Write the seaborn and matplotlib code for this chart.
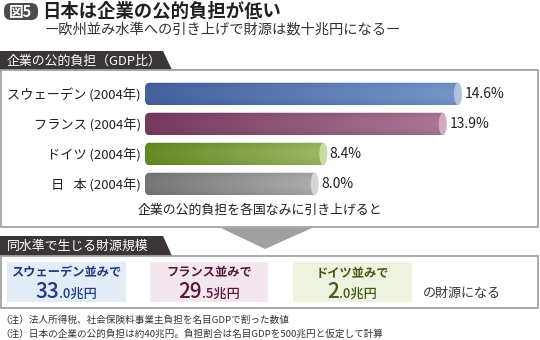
import numpy as np
import pandas as pd
import matplotlib
matplotlib.use("Agg")
import matplotlib.pyplot as plt
import seaborn as sns
from matplotlib.patches import FancyBboxPatch, Ellipse, Polygon, Rectangle
from matplotlib.colors import LinearSegmentedColormap

# ---------------- data ----------------
countries = ["スウェーデン\u2009(2004年)", "フランス\u2009(2004年)", "ドイツ\u2009(2004年)",
             "日\u2002\u2009本\u2009(2004年)"]
burden = [14.6, 13.9, 8.4, 8.0]
value_labels = ["14.6%", "13.9%", "8.4%", "8.0%"]
bar_left = ["#46619E", "#763A60", "#658A24", "#767676"]
bar_right = ["#7596C9", "#AB7797", "#9DB962", "#ADADAD"]
bar_cap = ["#AFC3E1", "#D4A9C4", "#CADBA2", "#D5D5D5"]

rev_titles = ["スウェーデン並みで", "フランス並みで", "ドイツ並みで"]
rev_big = ["33", "29", "2"]
rev_small = [".0兆円", ".5兆円", ".0兆円"]
rev_bg = ["#E3ECF6", "#F3E6EF", "#EEF3E0"]
rev_fg = ["#1D3A82", "#5A1838", "#3E5A12"]

title = "日本は企業の公的負担が低い"
subtitle = "ー欧州並み水準への引き上げで財源は数十兆円になるー"
tab1 = "企業の公的負担（GDP比）"
tab2 = "同水準で生じる財源規模"
caption = "企業の公的負担を各国なみに引き上げると"
tail = "の財源になる"
notes = ["（注）法人所得税、社会保険料事業主負担を名目GDPで割った数値",
         "（注）日本の企業の公的負担は約40兆円。負担割合は名目GDPを500兆円と仮定して計算"]

# ---------------- style ----------------
sns.set_theme(style="white")
plt.rcParams["font.family"] = ["Noto Sans CJK JP", "DejaVu Sans"]

W, H = 540, 340
fig = plt.figure(figsize=(W / 100, H / 100), dpi=100)

# background / decoration axes in pixel coordinates
bg = fig.add_axes([0, 0, 1, 1])
bg.set_xlim(0, W)
bg.set_ylim(H, 0)
bg.axis("off")

dark = "#3B3536"
border = "#A3A3A3"

# badge
bg.add_patch(FancyBboxPatch((4, 3), 34, 17, boxstyle="round,pad=0,rounding_size=7",
                            fc="#4E4B4B", ec="none"))
bg.text(20.5, 12, "図5", color="white", fontsize=10.5, fontweight="bold", ha="center", va="center")
bg.text(42, 11, title, fontsize=13.2, fontweight="bold", color="#231F20", ha="left", va="center")
bg.text(44, 30, subtitle, fontsize=10.3, color="#333333", ha="left", va="center")

# tab 1 + box
bg.add_patch(Polygon([(0, 51), (163, 51), (172, 70), (0, 70)], closed=True, fc=dark, ec="none"))
bg.text(7, 61, tab1, color="white", fontsize=9.3, ha="left", va="center")
bg.add_patch(Rectangle((1, 70), 537, 157, fc="none", ec=border, lw=1.3))
bg.text(260, 210, caption, fontsize=9.3, color="#231F20", ha="center", va="center")

# arrow
bg.add_patch(Polygon([(221, 228), (312, 228), (265, 249)], closed=True, fc="#A0A0A0", ec="none"))

# tab 2 + box
bg.add_patch(Polygon([(0, 236), (163, 236), (172, 256), (0, 256)], closed=True, fc=dark, ec="none"))
bg.text(7, 246, tab2, color="white", fontsize=9.3, ha="left", va="center")
bg.add_patch(Rectangle((1, 256), 537, 52, fc="none", ec=border, lw=1.3))

panels_x = [(7, 126), (150, 268), (293, 412)]
fig.canvas.draw()
renderer = fig.canvas.get_renderer()
for (x0, x1), t, big, small, bgc, fgc in zip(panels_x, rev_titles, rev_big, rev_small, rev_bg, rev_fg):
    bg.add_patch(Rectangle((x0, 262), x1 - x0, 40, fc=bgc, ec="none"))
    cx = (x0 + x1) / 2
    bg.text(cx, 273, t, color=fgc, fontsize=8.8, fontweight="bold", ha="center", va="center")
    tb = bg.text(0, 297.5, big, color=fgc, fontsize=15, fontweight="medium", ha="right", va="baseline")
    ts = bg.text(0, 297.5, small, color=fgc, fontsize=9.5, fontweight="medium", ha="left", va="baseline")
    wb = tb.get_window_extent(renderer).width
    ws = ts.get_window_extent(renderer).width
    split = cx - (wb + ws) / 2 + wb
    tb.set_x(split)
    ts.set_x(split)
bg.text(423, 297, tail, fontsize=9.4, color="#333333", ha="left", va="baseline")

for i, n in enumerate(notes):
    bg.text(0, 320 + 14 * i, n, fontsize=6.9, color="#333333", ha="left", va="center")

# ---------------- bar chart ----------------
ax_l, ax_r, ax_t, ax_b = 145, 475, 79, 199
ax = fig.add_axes([ax_l / W, 1 - ax_b / H, (ax_r - ax_l) / W, (ax_b - ax_t) / H])
df = pd.DataFrame({"country": countries, "burden": burden})
sns.barplot(data=df, x="burden", y="country", hue="country", palette=bar_left,
            orient="h", width=0.75, legend=False, ax=ax, saturation=1)
xmax = 15.2
ax.set_xlim(0, xmax)
ax.set_ylim(3.5, -0.5)
xpx = (ax_r - ax_l) / xmax
ypx = (ax_b - ax_t) / 4.0
asp = xpx / ypx
cap_w = 8 / xpx
rad = 5 / xpx

for p in list(ax.patches):
    x0, y0, w, h = p.get_x(), p.get_y(), p.get_width(), p.get_height()
    if w <= 0:
        continue
    yc = y0 + h / 2
    i = int(round(yc))
    p.set_facecolor("none")
    p.set_edgecolor("none")
    cmap = LinearSegmentedColormap.from_list("g", [bar_left[i], bar_right[i]])
    grad = np.linspace(0, 1, 256).reshape(1, -1)
    shade = 1 - 0.08 * (np.linspace(-1, 1, 32) ** 2)
    rgb = cmap(grad)[..., :3] * shade[:, None, None]
    img = ax.imshow(rgb, extent=[x0, x0 + w - cap_w / 2, y0 + h, y0], aspect="auto",
                    interpolation="bilinear", zorder=2)
    clip = FancyBboxPatch((x0, y0), w - cap_w / 2 + rad, h,
                          boxstyle=f"round,pad=0,rounding_size={rad}",
                          mutation_aspect=asp, transform=ax.transData, fc="none", ec="none")
    ax.add_patch(clip)
    img.set_clip_path(clip)
    ax.add_patch(Ellipse((x0 + w - cap_w / 2, yc), cap_w, h, fc=bar_cap[i], ec="none", zorder=3))
    ax.text(x0 + w + 2.5 / xpx, yc, value_labels[i], fontsize=10, color="#231F20",
            ha="left", va="center")

ax.set_xlim(0, xmax)
ax.set_ylim(3.5, -0.5)
ax.set_xlabel("")
ax.set_ylabel("")
ax.set_xticks([])
ax.tick_params(axis="y", length=0, pad=3, labelsize=9.5, labelcolor="#231F20")
for s in ax.spines.values():
    s.set_visible(False)
ax.patch.set_alpha(0)

fig.savefig("out.png", dpi=100)
